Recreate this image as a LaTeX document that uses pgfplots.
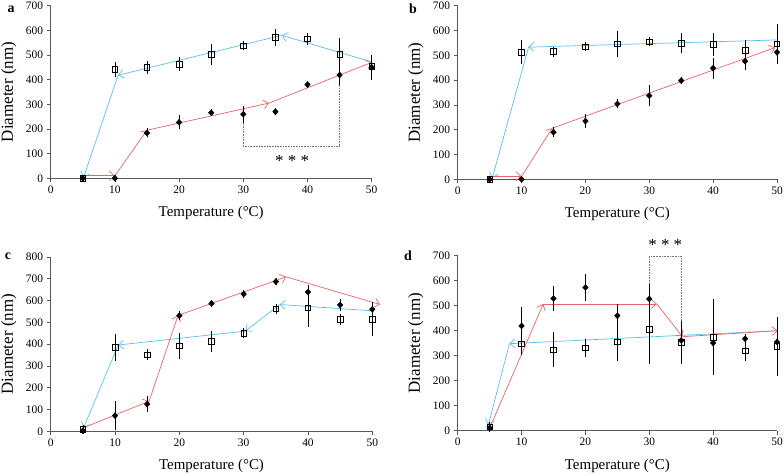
\documentclass[border=0pt]{standalone}
\usepackage{pgfplots}
\pgfplotsset{compat=1.18}
\usepackage{pgfplotstable}
\usepackage{fontspec}
\setmainfont{Liberation Serif}
\usetikzlibrary{arrows.meta}
\definecolor{heatred}{RGB}{236,98,100}
\definecolor{coolblue}{RGB}{88,192,230}

\pgfplotstableread{
x y e
5 0 5
10 442 20
15 450 15
20 462 18
25 502 33
30 538 8
35 572 25
40 565 15
45 502 58
50 455 20
}\asq
\pgfplotstableread{
x y e
5 0 3
10 0 3
15 184 8
20 227 18
25 266 5
30 260 25
35 270 5
40 380 5
45 419 30
50 450 40
}\adi
\pgfplotstableread{
x y e
5 0 5
10 512 38
15 515 10
20 535 8
25 547 42
30 555 8
35 548 30
40 544 36
45 521 32
50 547 70
}\bsq
\pgfplotstableread{
x y e
5 0 3
10 0 3
15 190 10
20 235 18
25 304 8
30 337 32
35 398 5
40 448 32
45 476 25
50 512 38
}\bdi
\pgfplotstableread{
x y e
5 8 10
10 385 50
15 352 15
20 392 50
25 414 37
30 450 12
35 562 10
40 566 75
45 514 15
50 515 67
}\csq
\pgfplotstableread{
x y e
5 3 5
10 72 55
15 125 25
20 531 8
25 587 6
30 630 6
35 687 6
40 639 21
45 580 17
50 560 20
}\cdi
\pgfplotstableread{
x y e
5 15 10
10 348 36
15 324 60
20 331 27
25 355 67
30 405 129
35 353 77
40 373 142
45 320 30
50 337 109
}\dsq
\pgfplotstableread{
x y e
5 11 5
10 419 66
15 529 40
20 573 44
25 460 37
30 527 50
35 361 15
40 351 58
45 368 8
50 355 8
}\ddi

\pgfplotsset{
  panel/.style={
    scale only axis, anchor=south west, clip=false,
    xmin=0, xmax=50, ymin=0,
    xtick={0,10,...,50},
    axis lines*=left,
    axis line style={black!65, line width=0.6pt},
    tick align=outside, major tick length=4bp,
    tick style={black!65, line width=0.6pt},
    /pgf/number format/assume math mode=true,
    ticklabel style={font=\fontsize{11.5}{13}\selectfont},
    xlabel={Temperature (°C)},
    ylabel={Diameter (nm)},
    every axis x label/.style={at={(axis description cs:0.5,0)}, anchor=center, yshift=-35bp, font=\fontsize{15}{17}\selectfont},
    every axis y label/.style={at={(axis description cs:0,0.5)}, anchor=center, xshift=-42bp, rotate=90, font=\fontsize{17}{19}\selectfont},
  },
  sq/.style={only marks, mark=square, mark size=2.8pt, mark options={black, fill=white, line width=0.6pt},
    error bars/.cd, y dir=both, y explicit,
    error bar style={black, line width=0.6pt}, error mark options={black, mark size=2.5pt, line width=0.6pt}},
  di/.style={only marks, mark=diamond*, mark size=3pt, mark options={black, fill=black, xscale=1.25},
    error bars/.cd, y dir=both, y explicit,
    error bar style={black, line width=0.6pt}, error mark options={black, mark size=2.5pt, line width=0.6pt}},
  hr/.style={heatred, line width=0.7pt, mark=none, -{Straight Barb[length=5bp, width=9bp]}},
  cb/.style={coolblue, line width=0.7pt, mark=none, -{Straight Barb[length=5bp, width=9bp]}},
  br/.style={black!55, densely dotted, line width=0.6pt, mark=none},
}

\begin{document}
\begin{tikzpicture}
\path[use as bounding box] (0,0) rectangle (784bp,476bp);

% panel a
\begin{axis}[panel, at={(50.7bp,297.7bp)}, width=321bp, height=172.6bp, ymax=700, ytick={0,100,...,700}]
\addplot[br] coordinates {(30,245) (30,128) (45,128) (45,400)};
\addplot[cb] coordinates {(50,472) (36,580)};
\addplot[cb] coordinates {(36,580) (10.5,418)};
\addplot[cb] coordinates {(10.5,418) (5.1,2)};
\addplot[hr] coordinates {(5,10) (10,10)};
\addplot[hr] coordinates {(10,10) (15,195)};
\addplot[hr] coordinates {(15,195) (34,305)};
\addplot[hr] coordinates {(34,305) (50,470)};
\addplot[sq] table[x=x, y=y, y error=e] {\asq};
\addplot[di] table[x=x, y=y, y error=e] {\adi};
\node[font=\fontsize{17}{17}\selectfont] at (axis cs:37.6,72) {* * *};
\end{axis}

% panel b
\begin{axis}[panel, at={(457.7bp,296.7bp)}, width=319.3bp, height=173.6bp, ymax=700, ytick={0,100,...,700}]
\addplot[cb] coordinates {(50,562) (11.1,533)};
\addplot[cb] coordinates {(11.1,533) (5.4,4)};
\addplot[hr] coordinates {(5,12) (10,12)};
\addplot[hr] coordinates {(10,12) (14.8,206)};
\addplot[hr] coordinates {(14.8,206) (49.7,531)};
\addplot[sq] table[x=x, y=y, y error=e] {\bsq};
\addplot[di] table[x=x, y=y, y error=e] {\bdi};
\end{axis}

% panel c
\begin{axis}[panel, at={(50.7bp,44.7bp)}, width=321.6bp, height=174.3bp, ymax=800, ytick={0,100,...,800}]
\addplot[cb] coordinates {(50,553) (35.6,582)};
\addplot[cb] coordinates {(35.6,582) (30.3,460)};
\addplot[cb] coordinates {(30.3,460) (10.5,396)};
\addplot[cb] coordinates {(10.5,396) (5.1,15)};
\addplot[hr] coordinates {(5,15) (15.3,138)};
\addplot[hr] coordinates {(15.3,138) (19.8,532)};
\addplot[hr] coordinates {(19.8,532) (36.6,709)};
\addplot[hr] coordinates {(36.6,709) (51.2,582)};
\addplot[sq] table[x=x, y=y, y error=e] {\csq};
\addplot[di] table[x=x, y=y, y error=e] {\cdi};
\end{axis}

% panel d
\begin{axis}[panel, at={(457.7bp,45.3bp)}, width=319.3bp, height=175bp, ymax=700, ytick={0,100,...,700}]
\addplot[br] coordinates {(30,576) (30,697) (35,697) (35,376)};
\addplot[cb] coordinates {(50.1,400) (8.1,348)};
\addplot[cb] coordinates {(8.1,348) (4.8,23)};
\addplot[hr] coordinates {(5,10) (13.4,507)};
\addplot[hr] coordinates {(13.4,507) (31.2,507)};
\addplot[hr] coordinates {(31.2,507) (35.2,376)};
\addplot[hr] coordinates {(35.2,376) (50.1,400)};
\addplot[sq] table[x=x, y=y, y error=e] {\dsq};
\addplot[di] table[x=x, y=y, y error=e] {\ddi};
\node[font=\fontsize{17}{17}\selectfont] at (axis cs:32.5,742) {* * *};
\end{axis}

\node[font=\bfseries\fontsize{14}{14}\selectfont] at (11bp,467bp) {a};
\node[font=\bfseries\fontsize{14}{14}\selectfont] at (413bp,467bp) {b};
\node[font=\bfseries\fontsize{14}{14}\selectfont] at (8bp,220bp) {c};
\node[font=\bfseries\fontsize{14}{14}\selectfont] at (408bp,220bp) {d};
\end{tikzpicture}
\end{document}
